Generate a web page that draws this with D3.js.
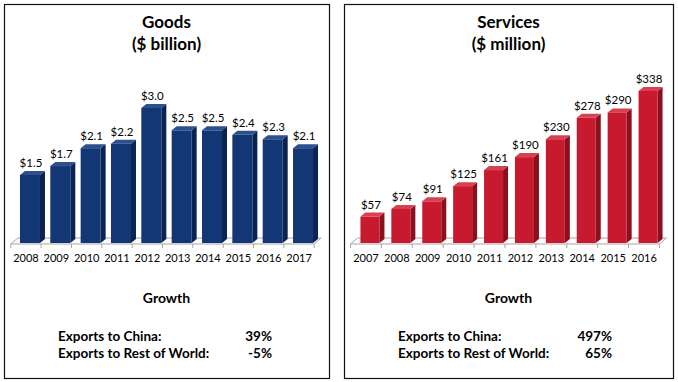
<!DOCTYPE html>
<html><head><meta charset="utf-8">
<script src="https://cdn.jsdelivr.net/npm/d3@7"></script>
<style>
html,body{margin:0;padding:0;background:#fff;}
svg{display:block;}
text{font-family:Lato,"Open Sans",sans-serif;}
</style></head>
<body>
<svg id="c" width="678" height="382"></svg>
<script>
const goodsYears = ["2008","2009","2010","2011","2012","2013","2014","2015","2016","2017"];
const goodsValues = [1.5,1.7,2.1,2.2,3.0,2.5,2.5,2.4,2.3,2.1];
const goodsLabels = ["$1.5","$1.7","$2.1","$2.2","$3.0","$2.5","$2.5","$2.4","$2.3","$2.1"];
const servicesYears = ["2007","2008","2009","2010","2011","2012","2013","2014","2015","2016"];
const servicesValues = [57,74,91,125,161,190,230,278,290,338];
const servicesLabels = ["$57","$74","$91","$125","$161","$190","$230","$278","$290","$338"];
const goodsTitle = ["Goods","($ billion)"];
const servicesTitle = ["Services","($ million)"];
const growthRows = ["Exports to China:","Exports to Rest of World:"];
const goodsGrowth = ["39%","-5%"];
const servicesGrowth = ["497%","65%"];

const svg = d3.select("#c");

function panel(cfg){
  const g = svg.append("g");
  g.append("rect").attr("x",cfg.x0+0.5).attr("y",4.5).attr("width",cfg.x1-cfg.x0).attr("height",374)
    .attr("fill","#fff").attr("stroke","#111").attr("stroke-width",1.2);
  const cx = (cfg.x0+cfg.x1)/2;
  g.append("text").attr("x",cx).attr("y",28).attr("text-anchor","middle")
    .attr("font-weight","bold").attr("font-size",17).attr("fill","#000").text(cfg.title[0]);
  g.append("text").attr("x",cx).attr("y",50).attr("text-anchor","middle")
    .attr("font-weight","bold").attr("font-size",17).attr("fill","#000").text(cfg.title[1]);

  const x = d3.scaleBand().domain(cfg.cats).range(cfg.xr).paddingInner(0).paddingOuter(0);
  const y = d3.scaleLinear().domain(cfg.dom).range([242, cfg.topY]);
  const dx = 5, dy = 4;
  const y0 = 242;
  const xl = cfg.xr[0], xrr = cfg.xr[1];
  g.append("path").attr("d",`M${xl},${y0+2}L${xrr},${y0+2}L${xrr+dx+2},${y0+2-dy-2}L${xl+dx+2},${y0+2-dy-2}Z`)
    .attr("fill","#fcfcfc").attr("stroke","#a6a6a6").attr("stroke-width",1);
  const bounds = cfg.cats.map(c=>x(c)).concat([xrr]);
  g.selectAll("line.tk").data(bounds).join("line")
    .attr("x1",d=>d).attr("x2",d=>d).attr("y1",y0+2).attr("y2",y0+6)
    .attr("stroke","#a6a6a6").attr("stroke-width",1);
  g.selectAll("text.cat").data(cfg.cats).join("text")
    .attr("x",d=>x(d)+x.bandwidth()/2).attr("y",262).attr("text-anchor","middle")
    .attr("font-size",11).attr("fill","#000").text(d=>d);

  const bw = cfg.bw;
  const bars = g.selectAll("g.bar").data(cfg.vals).join("g");
  bars.each(function(v,i){
    const b = d3.select(this);
    const left = x(cfg.cats[i]) + x.bandwidth()/2 + 4 - bw/2;
    const top = y(v);
    const right = left + bw;
    b.append("path").attr("d",`M${right},${top}L${right+dx},${top-dy}L${right+dx},${y0-dy+1}L${right},${y0+1}Z`)
      .attr("fill",cfg.side);
    b.append("path").attr("d",`M${left},${top}L${left+dx},${top-dy}L${right+dx},${top-dy}L${right},${top}Z`)
      .attr("fill",cfg.topc);
    b.append("rect").attr("x",left).attr("y",top).attr("width",bw).attr("height",y0+1-top)
      .attr("fill",cfg.front);
    b.append("text").attr("x",left+bw/2+1).attr("y",top-8).attr("text-anchor","middle")
      .attr("font-size",11.5).attr("fill","#000").text(cfg.labels[i]);
  });

  g.append("text").attr("x",cx).attr("y",303).attr("text-anchor","middle")
    .attr("font-weight","bold").attr("font-size",14).attr("fill","#000").text("Growth");
  growthRows.forEach((r,i)=>{
    g.append("text").attr("x",cfg.x0+54).attr("y",341+i*17).attr("font-weight","bold")
      .attr("font-size",13.5).attr("fill","#000").text(r);
    g.append("text").attr("x",cfg.x0+268).attr("y",341+i*17).attr("text-anchor","end").attr("font-weight","bold")
      .attr("font-size",13.5).attr("fill","#000").text(cfg.growth[i]);
  });
}

panel({x0:4,x1:329,title:goodsTitle,cats:goodsYears,vals:goodsValues,labels:goodsLabels,
  xr:[10.8,314.2],dom:[0,3.0],topY:108,bw:20,front:"#133774",side:"#0a2452",topc:"#2c4f8e",growth:goodsGrowth});
panel({x0:344,x1:673,title:servicesTitle,cats:servicesYears,vals:servicesValues,labels:servicesLabels,
  xr:[350.5,659.5],dom:[0,338],topY:91,bw:19,front:"#c71a2e",side:"#8b0f1d",topc:"#d8404f",growth:servicesGrowth});
</script>
</body></html>
